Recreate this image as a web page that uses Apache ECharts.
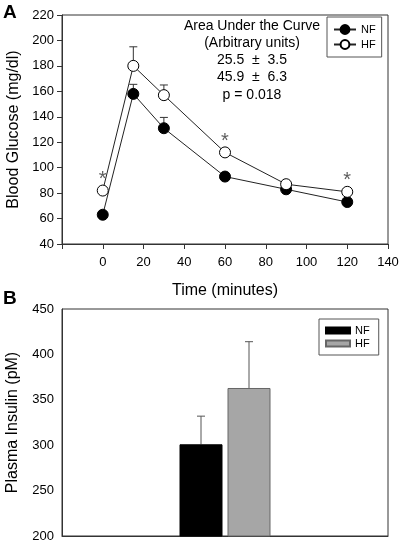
<!DOCTYPE html>
<html>
<head>
<meta charset="utf-8">
<script src="https://cdn.jsdelivr.net/npm/echarts@6/dist/echarts.min.js"></script>
<style>html,body{margin:0;padding:0;background:#fff}#c{width:400px;height:542px}</style>
</head>
<body>
<div id="c"></div>
<script>
// ---- Panel A data ----
var times = [0, 15, 30, 60, 90, 120];
var nfGlucose = [63, 158, 131, 93, 83, 73];
var nfGlucoseErr = [2, 7.5, 8.5, 3, 2, 2];
var hfGlucose = [82, 180, 157, 112, 87, 81];
var hfGlucoseErr = [2, 15, 8, 2, 2, 2];
var sigTimes = [0, 60, 120];
var aucLines = ['Area Under the Curve', '(Arbitrary units)', '25.5  \u00b1  3.5', '45.9  \u00b1  6.3', 'p = 0.018'];
// ---- Panel B data ----
var insulinGroups = ['NF', 'HF'];
var insulinMean = [301, 363];
var insulinErr = [31, 51];

var FONT = 'Liberation Sans, Arial, sans-serif';
var BAR_W = 43, BAR_GAP_PX = 5;

function pairs(xs, ys) { return xs.map(function (x, i) { return [x, ys[i]]; }); }
function errData(xs, ys, es) { return xs.map(function (x, i) { return [x, ys[i], es[i]]; }); }

function errRender(capHalf, color, offsetFn) {
  return function (params, api) {
    var x = api.value(0), m = api.value(1), e = api.value(2);
    var p1 = api.coord([x, m]), p2 = api.coord([x, m + e]);
    var dx = offsetFn ? offsetFn(params.dataIndex) : 0;
    var st = { stroke: color, lineWidth: 1 };
    return { type: 'group', children: [
      { type: 'line', shape: { x1: p1[0] + dx, y1: p1[1], x2: p2[0] + dx, y2: p2[1] }, style: st },
      { type: 'line', shape: { x1: p2[0] + dx - capHalf, y1: p2[1], x2: p2[0] + dx + capHalf, y2: p2[1] }, style: st }
    ]};
  };
}

var axisLine = { show: true, onZero: false, lineStyle: { color: '#333', width: 1 } };
var axisTick = { inside: false, length: 5, lineStyle: { color: '#333' } };
var axisLabel = { color: '#000', fontSize: 13, fontFamily: FONT };
var nameStyle = { color: '#000', fontSize: 16, fontFamily: FONT };

var hfLookup = {};
times.forEach(function (t, i) { hfLookup[t] = hfGlucose[i]; });

var chart = echarts.init(document.getElementById('c'), null, { renderer: 'canvas' });
chart.setOption({
  animation: false,
  backgroundColor: '#fff',
  textStyle: { fontFamily: FONT },
  grid: [
    { left: 62, top: 15, width: 326, height: 229, show: true, borderColor: '#333', borderWidth: 1, backgroundColor: 'transparent', containLabel: false, outerBoundsMode: 'none' },
    { left: 62, top: 309, width: 326, height: 227, show: true, borderColor: '#333', borderWidth: 1, backgroundColor: 'transparent', containLabel: false, outerBoundsMode: 'none' }
  ],
  xAxis: [
    { type: 'value', gridIndex: 0, min: -20, max: 140, interval: 20,
      name: 'Time (minutes)', nameLocation: 'middle', nameGap: 39, nameTextStyle: nameStyle,
      axisLine: axisLine, axisTick: axisTick, splitLine: { show: false },
      axisLabel: Object.assign({}, axisLabel, { margin: 12, formatter: function (v) { return v < 0 ? '' : v; } }) },
    { type: 'category', gridIndex: 1, data: [''],
      axisLine: axisLine, axisTick: { alignWithLabel: true, length: 4, lineStyle: { color: '#333' } },
      axisLabel: { show: false } }
  ],
  yAxis: [
    { type: 'value', gridIndex: 0, min: 40, max: 220, interval: 20,
      name: 'Blood Glucose (mg/dl)', nameLocation: 'middle', nameGap: 40, nameTextStyle: nameStyle,
      axisLine: axisLine, axisTick: axisTick, splitLine: { show: false },
      axisLabel: Object.assign({}, axisLabel, { margin: 8 }) },
    { type: 'value', gridIndex: 1, min: 200, max: 450, interval: 50,
      name: 'Plasma Insulin (pM)', nameLocation: 'middle', nameGap: 41, nameTextStyle: nameStyle,
      axisLine: axisLine, axisTick: axisTick, splitLine: { show: false },
      axisLabel: Object.assign({}, axisLabel, { margin: 8 }) }
  ],
  legend: [
    { data: ['NF', 'HF'], orient: 'vertical', left: 327, top: 17, width: 58,
      padding: [7, 6, 7, 6], itemGap: 4, itemWidth: 22, itemHeight: 11,
      borderColor: '#555', borderWidth: 1, backgroundColor: '#fff',
      textStyle: { fontSize: 11, color: '#000', fontFamily: FONT } },
    { data: [{ name: insulinGroups[0] + ' ', icon: 'rect' }, { name: insulinGroups[1] + ' ', icon: 'rect' }],
      orient: 'vertical', left: 319, top: 319,
      padding: [6, 6, 6, 6], itemGap: 2, itemWidth: 24, itemHeight: 6,
      borderColor: '#555', borderWidth: 1, backgroundColor: '#fff',
      textStyle: { fontSize: 11, color: '#000', fontFamily: FONT } }
  ],
  series: [
    { type: 'custom', name: 'errNF', xAxisIndex: 0, yAxisIndex: 0, z: 1,
      renderItem: errRender(4, '#333'), data: errData(times, nfGlucose, nfGlucoseErr) },
    { type: 'custom', name: 'errHF', xAxisIndex: 0, yAxisIndex: 0, z: 1,
      renderItem: errRender(4, '#333'), data: errData(times, hfGlucose, hfGlucoseErr) },
    { type: 'line', name: 'NF', xAxisIndex: 0, yAxisIndex: 0, z: 3,
      data: pairs(times, nfGlucose), symbol: 'circle', symbolSize: 11, showAllSymbol: true,
      lineStyle: { color: '#222', width: 1 }, itemStyle: { color: '#000', borderColor: '#000', borderWidth: 1 } },
    { type: 'line', name: 'HF', xAxisIndex: 0, yAxisIndex: 0, z: 3,
      data: pairs(times, hfGlucose), symbol: 'circle', symbolSize: 11, showAllSymbol: true,
      lineStyle: { color: '#222', width: 1 }, itemStyle: { color: '#fff', borderColor: '#000', borderWidth: 1 } },
    { type: 'scatter', name: 'sig', xAxisIndex: 0, yAxisIndex: 0, z: 4, symbolSize: 0, silent: true,
      data: sigTimes.map(function (t) { return [t, hfLookup[t]]; }),
      label: { show: true, position: 'top', distance: 1, formatter: '*', fontSize: 20, color: '#333', fontFamily: FONT } },
    { type: 'bar', name: insulinGroups[0] + ' ', xAxisIndex: 1, yAxisIndex: 1, data: [insulinMean[0]],
      barWidth: BAR_W, barGap: (BAR_GAP_PX / BAR_W * 100) + '%',
      itemStyle: { color: '#000', borderColor: '#000', borderWidth: 1 } },
    { type: 'bar', name: insulinGroups[1] + ' ', xAxisIndex: 1, yAxisIndex: 1, data: [insulinMean[1]],
      barWidth: BAR_W,
      itemStyle: { color: '#a6a6a6', borderColor: '#666', borderWidth: 1 } },
    { type: 'custom', name: 'errIns', xAxisIndex: 1, yAxisIndex: 1, z: 1,
      renderItem: errRender(4, '#555', function (i) { return (i - 0.5) * (BAR_W + BAR_GAP_PX); }),
      data: insulinMean.map(function (m, i) { return [0, m, insulinErr[i]]; }) }
  ],
  graphic: [
    { type: 'text', left: 3, top: 3, style: { text: 'A', fontSize: 19, fontWeight: 'bold', fill: '#000', fontFamily: FONT } },
    { type: 'text', left: 3, top: 289, style: { text: 'B', fontSize: 19, fontWeight: 'bold', fill: '#000', fontFamily: FONT } },
    { type: 'text', x: 252, y: 17, style: { text: aucLines.join('\n'), fontSize: 14, lineHeight: 17.3, align: 'center', verticalAlign: 'top', fill: '#000', fontFamily: FONT } }
  ]
});
</script>
</body>
</html>
